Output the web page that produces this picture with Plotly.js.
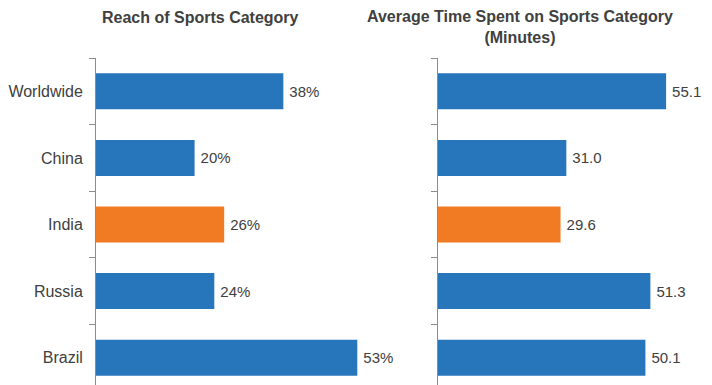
<!DOCTYPE html>
<html><head><meta charset="utf-8">
<script src="https://cdn.plot.ly/plotly-3.0.1.min.js"></script>
<style>html,body{margin:0;padding:0;background:#fff}#c{width:712px;height:385px}</style>
</head><body><div id="c"></div>
<script>
const categories = ["Worldwide", "China", "India", "Russia", "Brazil"];
const reachValues = [38, 20, 26, 24, 53];
const reachLabels = ["38%", "20%", "26%", "24%", "53%"];
const timeValues = [55.1, 31.0, 29.6, 51.3, 50.1];
const timeLabels = ["55.1", "31.0", "29.6", "51.3", "50.1"];
const highlight = "India";
const titles = ["Reach of Sports Category", "Average Time Spent on Sports Category<br>(Minutes)"];

const BLUE = "#2775BA", ORANGE = "#F07B22", TXT = "#404040", AX = "#8c8c8c";
const FONT = "Liberation Sans, Arial, sans-serif";
const colors = categories.map(c => c === highlight ? ORANGE : BLUE);
const W = 712;

const barBase = {type: "bar", orientation: "h", y: categories, width: 0.54,
  marker: {color: colors}, textposition: "outside", cliponaxis: false, constraintext: "none",
  textfont: {family: FONT, size: 15, color: TXT}, hoverinfo: "skip"};

const pad = s => "\u2009" + s;
const data = [
  Object.assign({}, barBase, {x: reachValues, text: reachLabels.map(pad), xaxis: "x", yaxis: "y"}),
  Object.assign({}, barBase, {x: timeValues, text: timeLabels.map(pad), xaxis: "x2", yaxis: "y2"})
];

const yax = {type: "category", range: [4.41, -0.5], showline: true, linecolor: AX, linewidth: 1,
  ticks: "outside", tickson: "boundaries", ticklen: 6, tickcolor: AX, showgrid: false, zeroline: false,
  tickfont: {family: FONT, size: 16, color: TXT}, ticklabelstandoff: 9};

const layout = {
  width: 712, height: 385, margin: {l: 0, r: 0, t: 58, b: 0},
  paper_bgcolor: "#fff", plot_bgcolor: "#fff", showlegend: false,
  xaxis: {domain: [96/W, 380/W], range: [0, (380-96)/4.93], visible: false, fixedrange: true},
  yaxis: Object.assign({}, yax, {anchor: "x"}),
  xaxis2: {domain: [438/W, 1], range: [0, (712-438)/4.14], visible: false, fixedrange: true},
  yaxis2: Object.assign({}, yax, {anchor: "x2", showticklabels: false}),
  annotations: [
    {text: "<b>" + titles[0] + "</b>", x: 200/W, py: 17},
    {text: "<b>" + titles[1] + "</b>", x: 520/W, py: 27}
  ].map(a => ({text: a.text, x: a.x, xref: "paper", yref: "paper", y: 1 + (58 - a.py) / 327,
    showarrow: false, xanchor: "center", yanchor: "middle",
    font: {family: FONT, size: 16, color: TXT}}))
};

Plotly.newPlot("c", data, layout, {displayModeBar: false, staticPlot: true});
</script></body></html>
